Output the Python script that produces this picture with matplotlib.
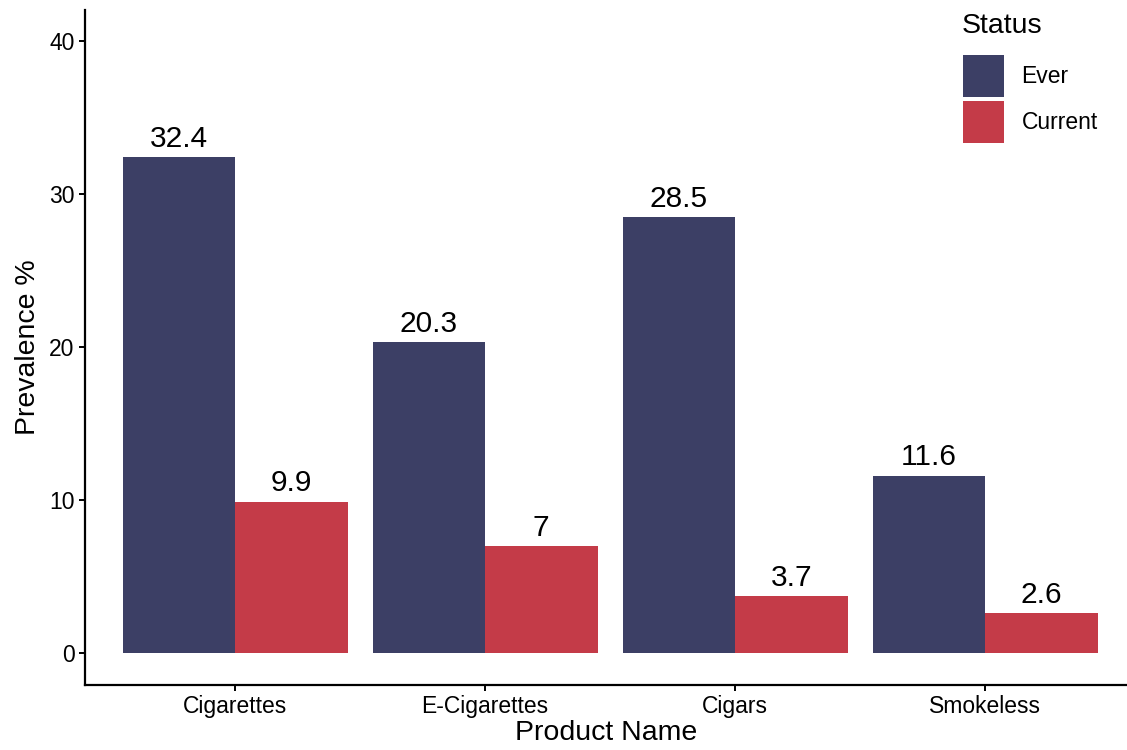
import numpy as np
import matplotlib.pyplot as plt
from matplotlib.patches import Patch

plt.rcParams['font.family'] = ['Liberation Sans', 'DejaVu Sans']

products = ['Cigarettes', 'E-Cigarettes', 'Cigars', 'Smokeless']
ever = [32.4, 20.3, 28.5, 11.6]
current = [9.9, 7, 3.7, 2.6]
status = ['Ever', 'Current']
colors = ['#3C3F65', '#C43B48']

fig = plt.figure(figsize=(11.27, 7.5), dpi=100)
ax = fig.add_axes([85 / 1127, 1 - 685 / 750, 1 - 85 / 1127, 675 / 750])

x = np.arange(1, len(products) + 1)
w = 0.45
for vals, off, col in [(ever, -w / 2, colors[0]), (current, w / 2, colors[1])]:
    bars = ax.bar(x + off, vals, width=w, color=col)
    for b, v in zip(bars, vals):
        ax.annotate(f'{v:g}', (b.get_x() + b.get_width() / 2, v),
                    xytext=(0, 3), textcoords='offset points',
                    ha='center', va='bottom', fontsize=21.5)

ax.set_xlim(0.4, 4.568)
ax.set_ylim(-2.09, 42.03)
ax.set_xticks(x)
ax.set_xticklabels(products)
ax.set_yticks([0, 10, 20, 30, 40])
ax.tick_params(labelsize=16.5, width=1.4, length=4.5, colors='black', pad=3)
for s in ['top', 'right']:
    ax.spines[s].set_visible(False)
for s in ['left', 'bottom']:
    ax.spines[s].set_linewidth(1.6)
ax.set_xlabel('Product Name', fontsize=20.5, labelpad=1)
ax.set_ylabel('Prevalence %', fontsize=20.5, labelpad=6)

# legend: title as text, keys below it
fig.text(962 / 1127, 1 - 26 / 750, 'Status', fontsize=20.5, ha='left', va='center')
handles = [Patch(facecolor=c, label=s) for c, s in zip(colors, status)]
leg = ax.legend(handles=handles, loc='upper left',
                bbox_to_anchor=(963 / 1127, 1 - 55 / 750), bbox_transform=fig.transFigure,
                frameon=False, fontsize=16.5, borderpad=0,
                handlelength=1.8, handleheight=2.45, labelspacing=0.17,
                handletextpad=0.75, borderaxespad=0)

fig.savefig('out.png', dpi=100)
